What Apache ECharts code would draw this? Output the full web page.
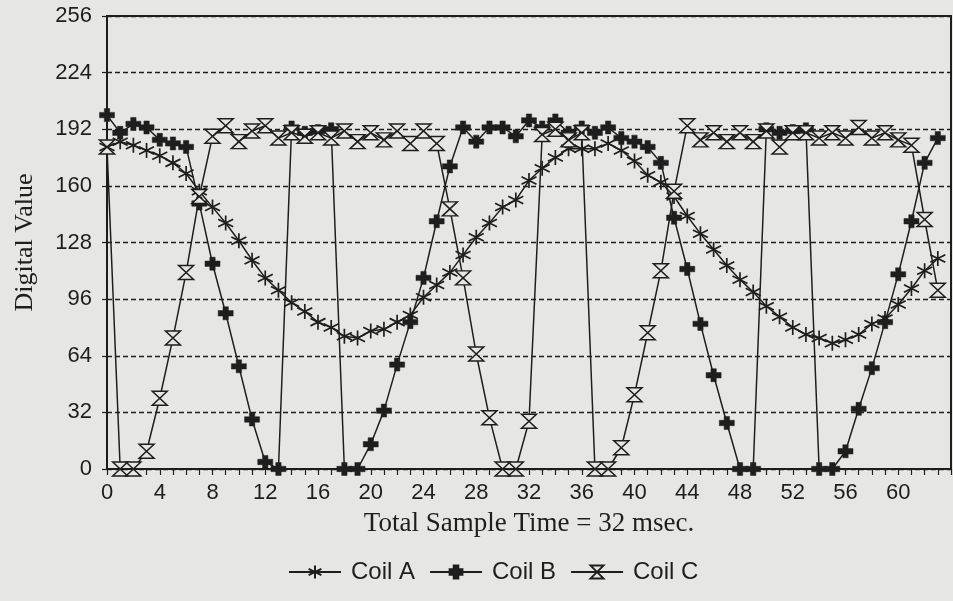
<!DOCTYPE html>
<html>
<head>
<meta charset="utf-8">
<script src="https://cdn.jsdelivr.net/npm/echarts@6/dist/echarts.min.js"></script>
<style>
html, body { margin: 0; padding: 0; background: #e6e6e4; }
#chart { width: 953px; height: 601px; }
</style>
</head>
<body>
<div id="chart"></div>
<script>
// readings, one value per sample (sample 0 .. 63)
var coilA = [182, 185, 183, 180, 177, 173, 167, 157, 148, 139, 129, 118, 108, 101, 94, 89,
             83, 80, 75, 74, 78, 79, 83, 87, 97, 104, 111, 121, 131, 139, 148, 152,
             163, 170, 176, 181, 181, 181, 184, 180, 174, 166, 162, 154, 143, 133, 124, 115,
             107, 100, 92, 86, 80, 76, 74, 71, 73, 76, 82, 85, 93, 102, 112, 119];
var coilB = [200, 190, 195, 193, 186, 184, 182, 150, 116, 88, 58, 28, 4, 0, 193, 190,
             191, 192, 0, 0, 14, 33, 59, 83, 108, 140, 171, 193, 185, 193, 193, 188,
             197, 193, 197, 190, 193, 190, 193, 187, 185, 182, 173, 142, 113, 82, 53, 26,
             0, 0, 192, 190, 191, 192, 0, 0, 10, 34, 57, 83, 110, 140, 173, 187];
var coilC = [182, 0, 0, 10, 40, 74, 111, 154, 188, 194, 185, 191, 194, 187, 190, 188,
             190, 187, 191, 185, 190, 186, 191, 184, 191, 184, 147, 108, 65, 29, 0, 0,
             27, 189, 192, 186, 190, 0, 0, 12, 42, 77, 112, 157, 194, 186, 190, 185,
             190, 185, 191, 182, 190, 190, 187, 190, 187, 193, 187, 190, 186, 183, 141, 101];
var seriesNames = ['Coil A', 'Coil B', 'Coil C'];

var ink = '#1e1e1e';
var paper = '#e6e6e4';
var sansFont = "'Liberation Sans Narrow', 'Liberation Sans', Arial, sans-serif";
var serifFont = "'Liberation Serif', 'DejaVu Serif', serif";

// marker shapes
var asterisk = 'path://M0,-10 L0,10 M-8.7,-5 L8.7,5 M-8.7,5 L8.7,-5';
var plus = 'path://M-2.5,-6 L2.5,-6 L2.5,-2.5 L7,-2.5 L7,2.5 L2.5,2.5 L2.5,6 L-2.5,6 L-2.5,2.5 L-7,2.5 L-7,-2.5 L-2.5,-2.5 Z';
var hourglass = 'path://M-7,-7 L7,-7 L-7,7 L7,7 Z';

function toPoints(vals) {
  return vals.map(function (v, i) { return [i, v]; });
}

var myChart = echarts.init(document.getElementById('chart'));
var option = {
  backgroundColor: paper,
  animation: false,
  grid: {
    left: 107, right: 2, top: 16, bottom: 132,
    show: true, borderColor: ink, borderWidth: 2
  },
  legend: {
    bottom: 12,
    left: 283,
    itemWidth: 52,
    itemHeight: 16,
    itemGap: 14,
    data: seriesNames,
    textStyle: { fontFamily: "'Liberation Sans', Arial, sans-serif", fontSize: 24, color: ink, padding: [0, 0, 0, 5] }
  },
  xAxis: {
    type: 'value',
    min: 0, max: 64, interval: 4,
    name: 'Total Sample Time = 32 msec.',
    nameLocation: 'middle',
    nameGap: 41,
    nameTextStyle: { fontFamily: serifFont, fontSize: 27, color: ink },
    axisLine: { lineStyle: { color: ink, width: 1.5 } },
    axisTick: { length: 6, lineStyle: { color: ink, width: 1.2 } },
    minorTick: { show: true, splitNumber: 4, length: 6, lineStyle: { color: ink, width: 1.2 } },
    axisLabel: { showMaxLabel: false, margin: 13, fontFamily: sansFont, fontSize: 22, color: ink },
    splitLine: { show: false }
  },
  yAxis: {
    type: 'value',
    min: 0, max: 256, interval: 32,
    name: 'Digital Value',
    nameLocation: 'middle',
    nameGap: 69,
    nameTextStyle: { fontFamily: serifFont, fontSize: 26, color: ink },
    axisLine: { show: true, lineStyle: { color: ink, width: 1.5 } },
    axisTick: { show: true, length: 5, lineStyle: { color: ink, width: 1.2 } },
    axisLabel: { margin: 15, fontFamily: sansFont, fontSize: 22, color: ink },
    splitLine: { show: true, lineStyle: { color: ink, width: 1.4, type: [5, 3] } }
  },
  series: [
    {
      name: seriesNames[0], type: 'line', data: toPoints(coilA),
      symbol: asterisk, symbolSize: [15, 15],
      lineStyle: { color: ink, width: 1.5 },
      itemStyle: { color: ink, borderColor: ink, borderWidth: 1.7 }
    },
    {
      name: seriesNames[1], type: 'line', data: toPoints(coilB),
      symbol: plus, symbolSize: [15, 13],
      lineStyle: { color: ink, width: 1.5 },
      itemStyle: { color: ink, borderColor: ink, borderWidth: 0.5 }
    },
    {
      name: seriesNames[2], type: 'line', data: toPoints(coilC),
      symbol: hourglass, symbolSize: [15, 14],
      lineStyle: { color: ink, width: 1.5 },
      itemStyle: { color: paper, borderColor: ink, borderWidth: 1.5 }
    }
  ]
};
myChart.setOption(option);
</script>
</body>
</html>
